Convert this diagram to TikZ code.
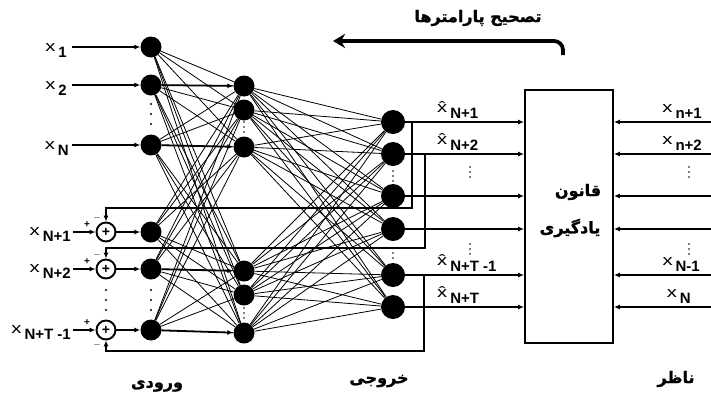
\documentclass[tikz,border=0pt]{standalone}
\usepackage{fontspec}
\setmainfont{Liberation Sans}
\newfontfamily\arabicfont[Script=Arabic, FakeBold=1.2]{DejaVu Sans}
\TeXXeTstate=1
\usetikzlibrary{arrows.meta}
\tikzset{
  neuron/.style={circle, fill=black, inner sep=0pt, minimum size=21pt},
  outneuron/.style={neuron, minimum size=24pt},
  sumnode/.style={circle, draw, line width=1.9pt, inner sep=0pt, minimum size=19pt, font=\bfseries\fontsize{14}{14}\selectfont},
  link/.style={line width=0.8pt},
  wire/.style={line width=1.8pt},
  lbl/.style={font=\bfseries\fontsize{15}{15}\selectfont, inner sep=0pt},
  sgn/.style={font=\bfseries\fontsize{10}{10}\selectfont, inner sep=0pt},
  fa/.style={font=\arabicfont\bfseries\fontsize{16}{18}\selectfont, inner sep=0pt},
  dots/.pic={\foreach \d in {-10,0,10} \fill (0,\d) circle (1.2);},
  smalldots/.pic={\foreach \d in {-5,0,5} \fill (0,\d) circle (0.9);}
}
\newcommand{\xx}{\scalebox{1.35}[1]{\mdseries\fontsize{15}{15}\selectfont x}}
\newcommand{\xxh}{\scalebox{1.35}[1]{\mdseries\fontsize{15}{15}\selectfont x̂}}
\newcommand{\xs}[1]{\xx\hspace{3pt}\raisebox{-6pt}{#1}}
\newcommand{\xh}[1]{\xxh\hspace{3pt}\raisebox{-6pt}{#1}}

\begin{document}
\begin{tikzpicture}[x=1pt, y=-1pt, >={Latex[length=6pt,width=5pt]}]
  \useasboundingbox (0,0) rectangle (711,402);

  % neurons
  \foreach \n/\y in {1/47,2/85,3/145,4/232,5/269,6/330}
    \node [neuron] (i\n) at (151,\y) {};
  \foreach \n/\y in {1/86,2/110,3/147,4/271,5/295,6/333}
    \node [neuron] (h\n) at (244,\y) {};
  \foreach \n/\y in {1/122,2/154,3/196,4/229,5/275,6/307}
    \node [outneuron] (o\n) at (393,\y) {};
  \node [sumnode] (s4) at (106,232) {+};
  \node [sumnode] (s5) at (106,269) {+};
  \node [sumnode] (s6) at (106,330) {+};
  \node [draw, wire, minimum width=88pt, minimum height=253pt] (rule) at (569,216.5) {};

  % coordinates to be reused
  \coordinate (in1) at (72,47);
  \coordinate (in2) at (72,85);
  \coordinate (in3) at (72,145);
  \coordinate (in4) at (73,232);
  \coordinate (in5) at (73,269);
  \coordinate (in6) at (73,330);
  \coordinate (f1) at (412,122);
  \coordinate (f2) at (425,154);
  \coordinate (f5) at (424,275);
  \coordinate (t4) at (106,208);
  \coordinate (t5) at (106,248);
  \coordinate (t6) at (106,351);
  \coordinate (cr) at (563,55);
  \coordinate (cl) at (333,41);

  % connections
  \foreach \a in {1,...,6}
    \foreach \b in {1,...,6} {
      \draw [link] (i\a) -- (h\b);
      \draw [link] (h\a) -- (o\b);
    }
  \draw [wire,->] (i2) -- (h1);
  \draw [wire,->] (i3) -- (h3);
  \draw [wire,->] (i5) -- (h4);
  \draw [wire,->] (i6) -- (h6);

  % inputs
  \draw [wire,->] (in1) -- (i1);
  \draw [wire,->] (in2) -- (i2);
  \draw [wire,->] (in3) -- (i3);
  \draw [wire,->] (in4) -- (s4);
  \draw [wire,->] (in5) -- (s5);
  \draw [wire,->] (in6) -- (s6);
  \draw [wire,->] (s4) -- (i4);
  \draw [wire,->] (s5) -- (i5);
  \draw [wire,->] (s6) -- (i6);

  % feedback of the predictions
  \draw [wire,->] (f1) |- (t4) -- (s4);
  \draw [wire,->] (f2) |- (t5) -- (s5);
  \draw [wire,->] (f5) |- (t6) -- (s6);

  % outputs and supervisor into the learning rule
  \foreach \n in {1,...,6} {
    \draw [wire,->] (o\n) -- (o\n -| rule.west);
    \coordinate (r\n) at (711,0 |- o\n);
    \draw [wire,->] (r\n) -- (r\n -| rule.east);
  }

  % parameter update
  \draw [line width=3.8pt, rounded corners=9pt, -{Stealth[length=12pt,width=14pt]}] (cr) |- (cl);

  % dots
  \path (151,114) pic {dots};
  \path (151,300) pic {dots};
  \path (106,300) pic {dots};
  \path (244,127) pic {smalldots};
  \path (244,313) pic {smalldots};
  \path (393,176) pic {smalldots};
  \path (393,253) pic {smalldots};
  \path (470,172) pic {smalldots};
  \path (470,249) pic {smalldots};
  \path (689,172) pic {smalldots};
  \path (689,249) pic {smalldots};

  % add labels
  \node [lbl, anchor=east] at (67,51) {\xs{1}};
  \node [lbl, anchor=east] at (67,89) {\xs{2}};
  \node [lbl, anchor=east] at (69,149) {\xs{N}};
  \node [lbl, anchor=east] at (71,235) {\xs{N+1}};
  \node [lbl, anchor=east] at (71,272) {\xs{N+2}};
  \node [lbl, anchor=east] at (71,333) {\xs{N+T -1}};
  \node [sgn] at (87,225) {+};
  \node [sgn] at (87,262) {+};
  \node [sgn] at (87,323) {+};
  \node [sgn] at (97,218) {$-$};
  \node [sgn] at (97,255) {$-$};
  \node [sgn] at (97,345) {$-$};
  \node [lbl, anchor=south west] at (437,119) {\xh{N+1}};
  \node [lbl, anchor=south west] at (437,151) {\xh{N+2}};
  \node [lbl, anchor=south west] at (437,272) {\xh{N+T -1}};
  \node [lbl, anchor=south west] at (437,304) {\xh{N+T}};
  \node [lbl, anchor=south east] at (702,119) {\xs{n+1}};
  \node [lbl, anchor=south east] at (702,151) {\xs{n+2}};
  \node [lbl, anchor=south east] at (700,272) {\xs{N-1}};
  \node [lbl, anchor=south east] at (691,304) {\xs{N}};
  \node [fa] at (478,18) {\beginR تصحیح پارامترها\endR};
  \node [fa] at (578,192) {\beginR قانون\endR};
  \node [fa] at (570,228) {\beginR یادگیری\endR};
  \node [fa] at (157,386) {\beginR ورودی\endR};
  \node [fa] at (379,381) {\beginR خروجی\endR};
  \node [fa] at (676,379) {\beginR ناظر\endR};
\end{tikzpicture}
\end{document}
